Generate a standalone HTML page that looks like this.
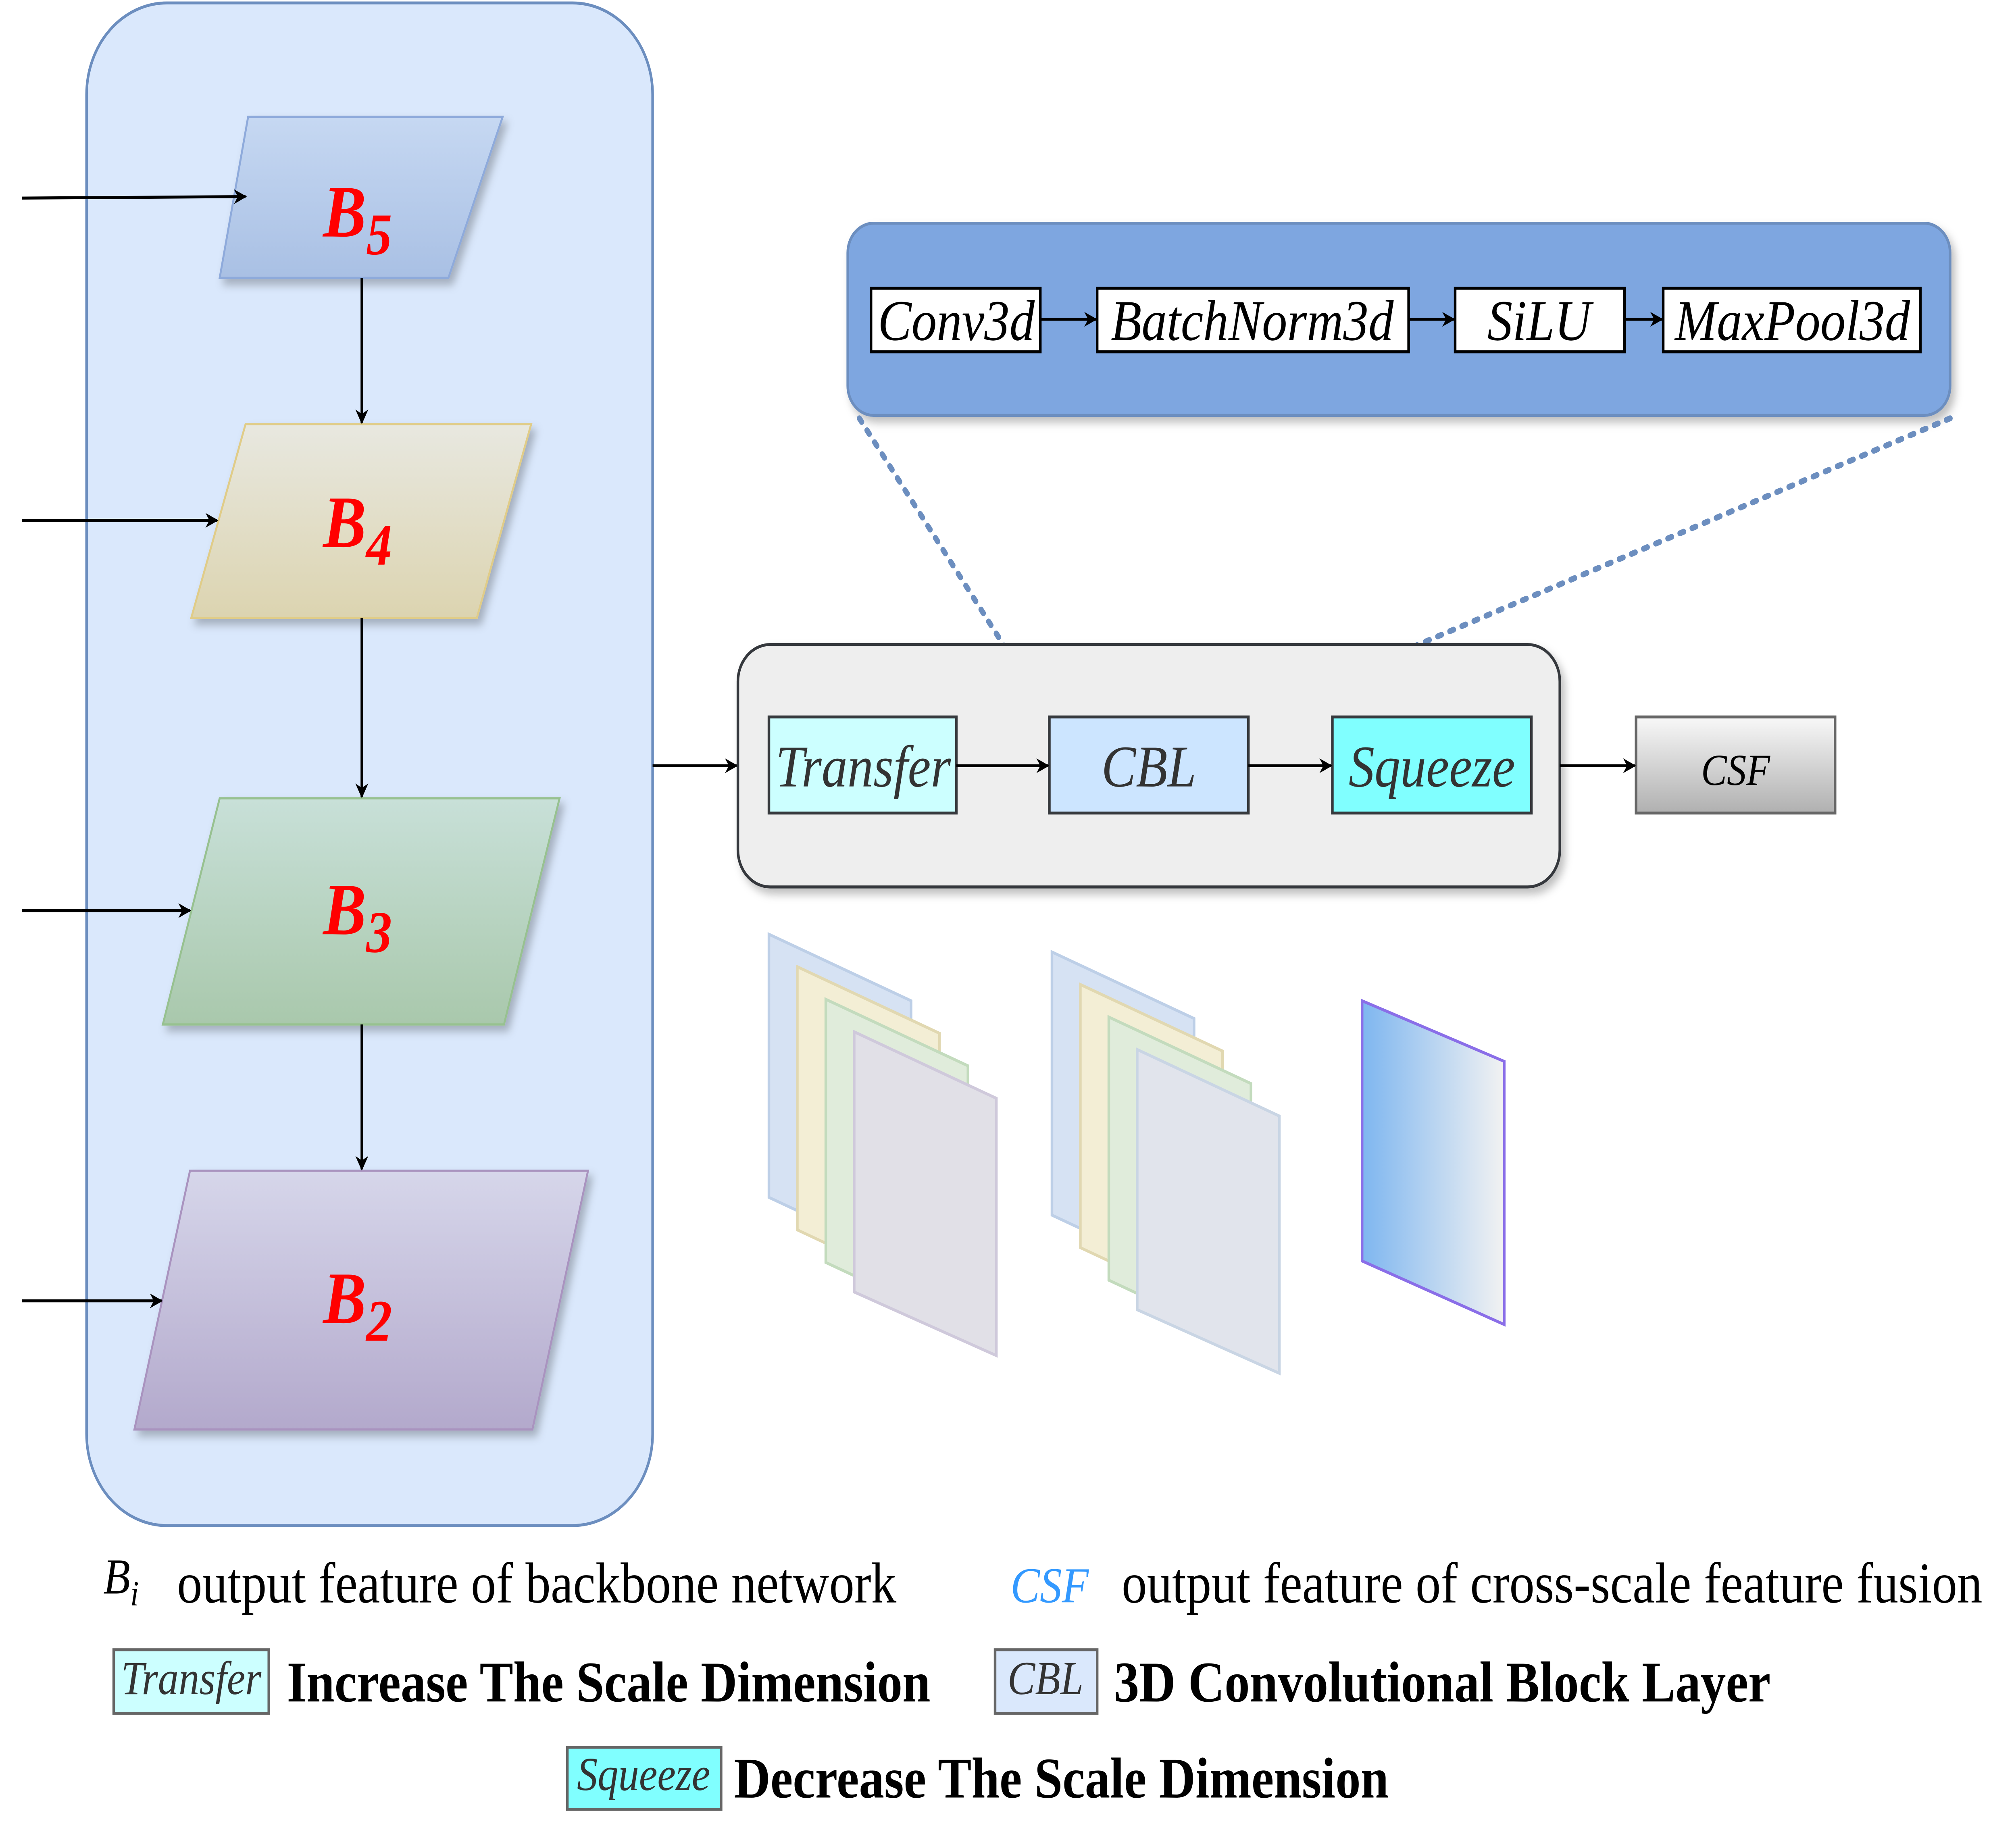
<!DOCTYPE html>
<html><head><meta charset="utf-8"><style>html,body{margin:0;padding:0;background:#fff;overflow:hidden;width:100vw;height:100vh}svg{display:block;width:100vw;height:100vh}</style></head>
<body>
<svg viewBox="0 0 1560 1239.3" preserveAspectRatio="none" xmlns="http://www.w3.org/2000/svg" font-family="'Liberation Serif', serif">
<defs>
<marker id="ar" markerWidth="10" markerHeight="10" refX="9" refY="5" orient="auto" markerUnits="userSpaceOnUse"><path d="M0,0 L10,5 L0,10 L3,5 z" fill="#000"/></marker>
<linearGradient id="g5" x1="0" y1="0" x2="0" y2="1"><stop offset="0" stop-color="#c6d8f2"/><stop offset="1" stop-color="#a9c0e4"/></linearGradient>
<linearGradient id="g4" x1="0" y1="0" x2="0" y2="1"><stop offset="0" stop-color="#e8e8e0"/><stop offset="1" stop-color="#dcd4b0"/></linearGradient>
<linearGradient id="g3" x1="0" y1="0" x2="0" y2="1"><stop offset="0" stop-color="#c8e0d8"/><stop offset="1" stop-color="#a9c8ac"/></linearGradient>
<linearGradient id="g2" x1="0" y1="0" x2="0" y2="1"><stop offset="0" stop-color="#d6d6ea"/><stop offset="1" stop-color="#b3a9cc"/></linearGradient>
<linearGradient id="gc" x1="0" y1="0" x2="0" y2="1"><stop offset="0" stop-color="#f8f8f8"/><stop offset="1" stop-color="#b0b0b0"/></linearGradient>
<linearGradient id="gp" x1="0" y1="0" x2="1" y2="0"><stop offset="0" stop-color="#7eb6f0"/><stop offset="1" stop-color="#f2f2f2"/></linearGradient>
<filter id="sh" x="-10%" y="-10%" width="130%" height="140%"><feDropShadow dx="3" dy="4" stdDeviation="3" flood-color="#000" flood-opacity="0.25"/></filter>
</defs>

<rect x="67" y="2" width="438" height="1030" rx="62" fill="#dae8fc" stroke="#6c8ebf" stroke-width="2"/>

<g stroke-width="1.5">
<polygon points="192,79 389,79 347,188 170,188" fill="url(#g5)" stroke="#8eaadb" filter="url(#sh)"/>
<polygon points="190,287 411,287 369,418 148,418" fill="url(#g4)" stroke="#e0cc88" filter="url(#sh)"/>
<polygon points="170,540 433,540 390,693 126,693" fill="url(#g3)" stroke="#97c190" filter="url(#sh)"/>
<polygon points="147,792 455,792 412,967 104,967" fill="url(#g2)" stroke="#a993bf" filter="url(#sh)"/>
</g>
<g fill="#ff0000" font-weight="bold" font-style="italic" font-size="50">
<text x="250" y="160">B<tspan font-size="40" dy="12">5</tspan></text>
<text x="250" y="370">B<tspan font-size="40" dy="12">4</tspan></text>
<text x="250" y="632">B<tspan font-size="40" dy="12">3</tspan></text>
<text x="250" y="895">B<tspan font-size="40" dy="12">2</tspan></text>
</g>

<g stroke="#000" stroke-width="2" marker-end="url(#ar)">
<line x1="17" y1="134" x2="190" y2="133"/>
<line x1="17" y1="352" x2="168" y2="352"/>
<line x1="17" y1="616" x2="147" y2="616"/>
<line x1="17" y1="880" x2="125" y2="880"/>
<line x1="280" y1="188" x2="280" y2="286"/>
<line x1="280" y1="418" x2="280" y2="539"/>
<line x1="280" y1="693" x2="280" y2="791"/>
<line x1="505" y1="518" x2="570" y2="518"/>
</g>

<rect x="656" y="151" width="853" height="130" rx="20" fill="#7ea6e0" stroke="#6c8ebf" stroke-width="2" filter="url(#sh)"/>
<g fill="#fff" stroke="#000" stroke-width="2">
<rect x="674" y="195" width="131" height="43"/>
<rect x="849" y="195" width="241" height="43"/>
<rect x="1126" y="195" width="131" height="43"/>
<rect x="1287" y="195" width="199" height="43"/>
</g>
<g font-style="italic" font-size="39" text-anchor="middle" fill="#000">
<text x="740" y="230">Conv3d</text>
<text x="969" y="230">BatchNorm3d</text>
<text x="1191" y="230">SiLU</text>
<text x="1387" y="230">MaxPool3d</text>
</g>
<g stroke="#000" stroke-width="2" marker-end="url(#ar)">
<line x1="805" y1="216" x2="848" y2="216"/>
<line x1="1090" y1="216" x2="1125" y2="216"/>
<line x1="1257" y1="216" x2="1286" y2="216"/>
</g>

<g stroke="#6c8ebf" stroke-width="4" stroke-dasharray="3,7" stroke-linecap="round">
<line x1="665" y1="283" x2="812" y2="485"/>
<line x1="1509" y1="283" x2="966" y2="485"/>
</g>

<rect x="571" y="436" width="636" height="164" rx="25" fill="#eeeeee" stroke="#36393d" stroke-width="2" filter="url(#sh)"/>
<g stroke="#36393d" stroke-width="2">
<rect x="595" y="485" width="145" height="65" fill="#ccffff"/>
<rect x="812" y="485" width="154" height="65" fill="#cce5ff"/>
<rect x="1031" y="485" width="154" height="65" fill="#80ffff"/>
<rect x="1266" y="485" width="154" height="65" fill="url(#gc)" stroke="#666"/>
</g>
<g font-style="italic" font-size="40" text-anchor="middle" fill="#333">
<text x="668" y="532">Transfer</text>
<text x="889" y="532">CBL</text>
<text x="1108" y="532">Squeeze</text>
<text x="1343" y="531" font-size="30" fill="#000">CSF</text>
</g>
<g stroke="#000" stroke-width="2" marker-end="url(#ar)">
<line x1="740" y1="518" x2="811" y2="518"/>
<line x1="966" y1="518" x2="1030" y2="518"/>
<line x1="1207" y1="518" x2="1265" y2="518"/>
</g>

<g stroke-width="2" opacity="0.75">
<polygon points="595,632 705,677 705,855 595,810" fill="#c9d9f0" stroke="#a8bfe0"/>
<polygon points="617,654 727,699 727,877 617,832" fill="#efe9c8" stroke="#d8cc98"/>
<polygon points="639,676 749,721 749,899 639,854" fill="#d6e6d0" stroke="#b0d0a8"/>
<polygon points="661,698 771,743 771,917 661,874" fill="#d8d6e0" stroke="#c0b8d0"/>
<polygon points="814,644 924,689 924,867 814,822" fill="#c9d9f0" stroke="#a8bfe0"/>
<polygon points="836,666 946,711 946,889 836,844" fill="#efe9c8" stroke="#d8cc98"/>
<polygon points="858,688 968,733 968,911 858,866" fill="#d6e6d0" stroke="#b0d0a8"/>
<polygon points="880,710 990,755 990,929 880,886" fill="#d8dce6" stroke="#b8c8dc"/>
</g>
<polygon points="1054,677 1164,718 1164,896 1054,853" fill="url(#gp)" stroke="#8a6ee8" stroke-width="2"/>

<text x="80" y="1078" font-style="italic" font-size="34">B<tspan font-size="24" dy="8">i</tspan></text>
<text x="137" y="1084" font-size="39">output feature of backbone network</text>
<text x="782" y="1084" font-style="italic" font-size="34" fill="#3399ff">CSF</text>
<text x="868" y="1084" font-size="39">output feature of cross-scale feature fusion</text>

<rect x="88" y="1116" width="120" height="43" fill="#ccffff" stroke="#666" stroke-width="2"/>
<text x="148" y="1146" font-style="italic" font-size="32" text-anchor="middle" fill="#333">Transfer</text>
<text x="222" y="1151" font-size="39" font-weight="bold">Increase The Scale Dimension</text>
<rect x="770" y="1116" width="79" height="43" fill="#dae8fc" stroke="#666" stroke-width="2"/>
<text x="809" y="1146" font-style="italic" font-size="32" text-anchor="middle" fill="#333">CBL</text>
<text x="862" y="1151" font-size="39" font-weight="bold">3D Convolutional Block Layer</text>
<rect x="439" y="1182" width="119" height="42" fill="#80ffff" stroke="#666" stroke-width="2"/>
<text x="498" y="1211" font-style="italic" font-size="32" text-anchor="middle" fill="#333">Squeeze</text>
<text x="568" y="1216" font-size="39" font-weight="bold">Decrease The Scale Dimension</text>
</svg>
</body></html>
